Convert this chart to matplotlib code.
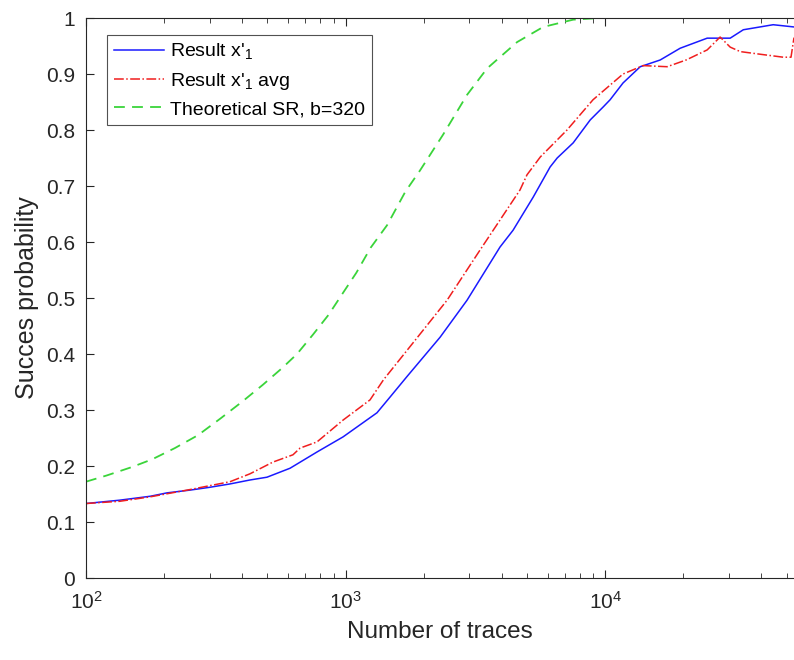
import matplotlib
matplotlib.use('Agg')
import matplotlib.pyplot as plt

plt.rcParams['font.family'] = ['Liberation Sans', 'DejaVu Sans']
plt.rcParams['mathtext.fontset'] = 'custom'
plt.rcParams['mathtext.rm'] = 'Liberation Sans'

# Result x'1 (measured)
x_res = [100, 135, 177, 205, 252, 300, 359, 428, 498, 611, 776, 978, 1321, 1483,
         1726, 2313, 2937, 3935, 4418, 5280, 6138, 6535, 7530, 8760, 9820, 10450,
         11720, 13650, 16290, 19450, 24720, 30320, 34060, 44390, 53400]
y_res = [0.133, 0.139, 0.146, 0.152, 0.157, 0.162, 0.168, 0.175, 0.180, 0.196,
         0.225, 0.252, 0.295, 0.323, 0.36, 0.43, 0.496, 0.591, 0.621, 0.68,
         0.734, 0.75, 0.777, 0.818, 0.841, 0.854, 0.884, 0.913, 0.925, 0.946,
         0.964, 0.964, 0.979, 0.988, 0.984]

# Result x'1 avg
x_avg = [100, 135, 177, 252, 359, 428, 525, 627, 668, 776, 978, 1242, 1400, 1820,
         2460, 3300, 4700, 5000, 5630, 7130, 8980, 11720, 14000, 17330, 20500,
         24720, 27730, 30320, 33150, 40000, 48530, 52000, 53400]
y_avg = [0.133, 0.137, 0.145, 0.158, 0.172, 0.186, 0.207, 0.220, 0.232, 0.243,
         0.282, 0.318, 0.354, 0.42, 0.496, 0.586, 0.693, 0.72, 0.752, 0.80, 0.854,
         0.90, 0.915, 0.913, 0.925, 0.943, 0.966, 0.948, 0.94, 0.935, 0.93, 0.93,
         0.965]

# Theoretical SR, b=320
x_th = [100, 120, 150, 180, 220, 270, 330, 400, 480, 570, 650, 750, 860, 977,
        1100, 1250, 1445, 1700, 1937, 2377, 2940, 3510, 4580, 5770, 7530,
        9500, 53400]
y_th = [0.172, 0.183, 0.198, 0.212, 0.232, 0.255, 0.285, 0.315, 0.345, 0.375,
        0.40, 0.435, 0.47, 0.509, 0.545, 0.59, 0.63, 0.69, 0.728, 0.792, 0.863,
        0.91, 0.957, 0.984, 0.997, 1.0, 1.0]

y_ticks = [0, 0.1, 0.2, 0.3, 0.4, 0.5, 0.6, 0.7, 0.8, 0.9, 1]
y_labels = ['0', '0.1', '0.2', '0.3', '0.4', '0.5', '0.6', '0.7', '0.8', '0.9', '1']

fig = plt.figure(figsize=(7.94, 6.6), dpi=100)
ax = fig.add_axes([86 / 794, 82 / 660, 1 - 86 / 794, (578 - 18) / 660])

ax.plot(x_res, y_res, '-', color='#1a1aff', lw=1.1, label="Result x'$_{1}$")
ax.plot(x_avg, y_avg, '-.', color='#f01e1e', lw=1.1, label="Result x'$_{1}$ avg")
ax.plot(x_th, y_th, '--', color='#3ad43a', lw=1.3, dashes=(6, 4),
        label='Theoretical SR, b=320')

ax.set_xscale('log')
ax.set_xlim(100, 53400)
ax.set_ylim(0, 1)
ax.set_yticks(y_ticks)
ax.set_yticklabels(y_labels)

ax.spines['right'].set_visible(False)
for s in ['top', 'bottom', 'left']:
    ax.spines[s].set_color('#262626')
    ax.spines[s].set_linewidth(0.8)
ax.tick_params(which='both', direction='in', top=True, right=False,
               colors='#262626', labelsize=15)
ax.tick_params(which='major', length=6)
ax.tick_params(which='minor', length=3.5)
ax.tick_params(axis='x', pad=9)
ax.tick_params(axis='y', pad=8)

ax.set_xlabel('Number of traces', fontsize=17.5, color='#262626', labelpad=6)
ax.set_ylabel('Succes probability', fontsize=18, color='#262626', labelpad=5)

leg = ax.legend(loc='upper left', bbox_to_anchor=(21 / 708, 1 - 17 / 560),
                fontsize=14, frameon=True, fancybox=False, handlelength=2.6,
                handletextpad=0.3, borderaxespad=0, labelspacing=0.45,
                borderpad=0.35)
leg.get_frame().set_edgecolor('#262626')
leg.get_frame().set_linewidth(0.8)

fig.savefig('out.png', dpi=100)
